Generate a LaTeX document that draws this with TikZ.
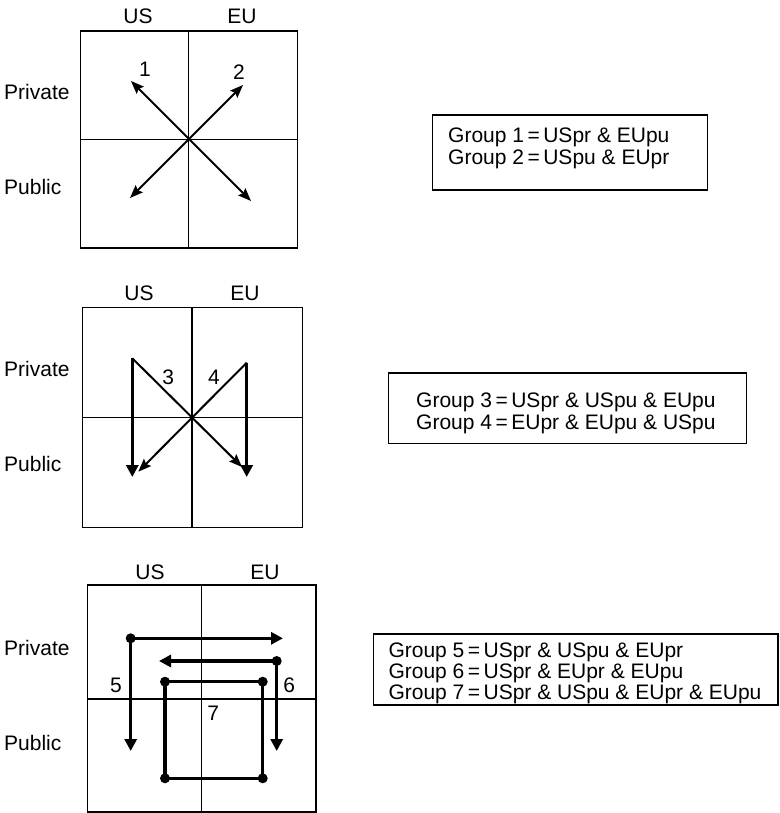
\documentclass[tikz,border=0pt]{standalone}
\usepackage{fontspec}
\setmainfont{Liberation Sans}
\usetikzlibrary{arrows.meta}
\begin{document}
\begin{tikzpicture}[x=1pt,y=-1pt,
  frame/.style={line width=1.5pt},
  divider/.style={line width=1.1pt},
  lbl/.style={font=\fontsize{21}{25}\selectfont, inner sep=0pt},
  grp/.style={font=\fontsize{21}{25}\selectfont, inner sep=0pt, anchor=base west},
  gbox/.style={line width=1.5pt},
  diag/.style={line width=2pt, {Stealth[length=13pt,width=10pt,inset=2pt]}-{Stealth[length=13pt,width=10pt,inset=2pt]}},
  halfdiag/.style={line width=2pt, -{Stealth[length=13pt,width=10pt,inset=2pt]}},
  thick arrow/.style={line width=3.5pt, -{Triangle[length=12pt,width=12pt]}},
  thick line/.style={line width=3.5pt},
  blob/.style={circle, fill=black, inner sep=0pt, minimum size=10pt}
]
\useasboundingbox (0,0) rectangle (779,813);

% ---------- Panel 1 ----------
\draw[frame] (80.5,31) rectangle (297.5,248);
\draw[divider] (188.7,31) -- (188.7,248);
\draw[divider] (80.5,139.3) -- (297.5,139.3);
\node[lbl, anchor=base] (us1) at (138,24) {US};
\node[lbl, anchor=base] (eu1) at (242,24) {EU};
\node[lbl, anchor=base west] (pr1) at (4,100) {Private};
\node[lbl, anchor=base west] (pu1) at (4,194) {Public};
\coordinate (a1s) at (131,81);
\coordinate (a1e) at (251,201);
\coordinate (a2s) at (243,85);
\coordinate (a2e) at (130,198);
\draw[diag] (a1s) -- (a1e);
\draw[diag] (a2s) -- (a2e);
\node[lbl, anchor=base] (n1) at (145,77) {1};
\node[lbl, anchor=base] (n2) at (239,80) {2};

\draw[gbox] (432.3,115) rectangle (707.3,190);
\node[grp] (g1) at (448,143) {Group 1\,=\,USpr \& EUpu};
\node[grp] (g2) at (448,165) {Group 2\,=\,USpu \& EUpr};

% ---------- Panel 2 ----------
\draw[frame] (82.3,307.3) rectangle (302.3,527.3);
\draw[divider] (192,307.3) -- (192,527.3);
\draw[divider] (82.3,417.3) -- (302.3,417.3);
\node[lbl, anchor=base] (us2) at (139,300) {US};
\node[lbl, anchor=base] (eu2) at (245,300) {EU};
\node[lbl, anchor=base west] (pr2) at (4,376) {Private};
\node[lbl, anchor=base west] (pu2) at (4,471) {Public};
\coordinate (t3) at (132.3,358.3);
\coordinate (b3) at (132.3,477);
\coordinate (d3) at (242,467);
\coordinate (t4) at (246.7,362.7);
\coordinate (b4) at (246.7,477);
\coordinate (d4) at (138.3,471.7);
\draw[halfdiag] (t3) -- (d3);
\draw[halfdiag] (t4) -- (d4);
\draw[thick arrow] (t3) -- (b3);
\draw[thick arrow] (t4) -- (b4);
\node[lbl, anchor=base] (n3) at (168.3,384) {3};
\node[lbl, anchor=base] (n4) at (214,384) {4};

\draw[gbox] (388.3,373) rectangle (746.7,443.3);
\node[grp] (g3) at (416,407) {Group 3\,=\,USpr \& USpu \& EUpu};
\node[grp] (g4) at (416,429) {Group 4\,=\,EUpr \& EUpu \& USpu};

% ---------- Panel 3 ----------
\draw[frame] (87.3,585) rectangle (316,812);
\draw[divider] (201.7,585) -- (201.7,812);
\draw[divider] (87.3,699) -- (316,699);
\node[lbl, anchor=base] (us3) at (150,579) {US};
\node[lbl, anchor=base] (eu3) at (265,579) {EU};
\node[lbl, anchor=base west] (pr3) at (4,655) {Private};
\node[lbl, anchor=base west] (pu3) at (4,750) {Public};
\coordinate (c5) at (130.7,638.3);
\coordinate (r5) at (283,638.3);
\coordinate (b5) at (130.7,751);
\coordinate (c6) at (276.7,661);
\coordinate (l6) at (159,661);
\coordinate (b6) at (276.7,751);
\coordinate (p7a) at (165,681.7);
\coordinate (p7b) at (262.7,681.7);
\coordinate (p7c) at (262.7,778.3);
\coordinate (p7d) at (165,778.3);
\draw[thick arrow] (c5) -- (r5);
\draw[thick arrow] (c5) -- (b5);
\draw[thick arrow] (c6) -- (l6);
\draw[thick arrow] (c6) -- (b6);
\draw[thick line] (p7a) -- (p7b) -- (p7c) -- (p7d) -- cycle;
\foreach \p in {c5,c6,p7a,p7b,p7c,p7d} \node[blob] at (\p) {};
\node[lbl, anchor=base] (n5) at (116,692) {5};
\node[lbl, anchor=base] (n6) at (289.3,692) {6};
\node[lbl, anchor=base] (n7) at (213.3,720) {7};

\draw[gbox] (373.3,634) rectangle (778,705);
\node[grp] (g5) at (388.3,657) {Group 5\,=\,USpr \& USpu \& EUpr};
\node[grp] (g6) at (388.3,678) {Group 6\,=\,USpr \& EUpr \& EUpu};
\node[grp] (g7) at (388.3,699) {Group 7\,=\,USpr \& USpu \& EUpr \& EUpu};
\end{tikzpicture}
\end{document}
